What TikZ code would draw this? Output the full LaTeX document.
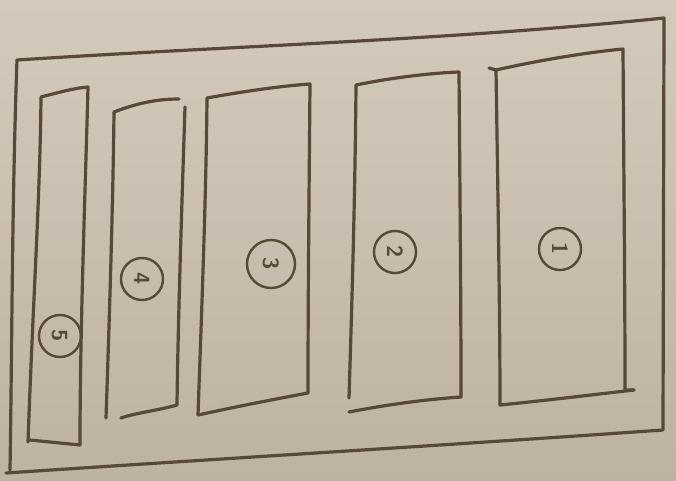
\documentclass[tikz,border=0pt]{standalone}
\usetikzlibrary{shapes.geometric}
\definecolor{paper}{RGB}{212,202,187}
\definecolor{paperdark}{RGB}{190,178,162}
\definecolor{ink}{RGB}{88,72,56}
\begin{document}
\begin{tikzpicture}[x=1pt,y=-1pt,
  pen/.style={draw=ink,line width=3.2pt,line join=round,line cap=round},
  badge/.style={circle,draw=ink,line width=2.4pt,minimum size=42pt,inner sep=0pt,
    text=ink,font=\sffamily\bfseries\fontsize{22}{24}\selectfont,rotate=-90}]
\useasboundingbox (0,0) rectangle (676,480);
\shade[top color=paper,bottom color=paperdark] (0,0) rectangle (676,480);
% outer frame
\draw[pen] (17,60) .. controls (250,45) and (450,40) .. (664,18) -- (663,430)
  .. controls (450,445) and (200,460) .. (6,473);
\draw[pen] (17,60) .. controls (12,200) and (12,350) .. (10,470);
% bar 5
\draw[pen] (28,442) .. controls (33,300) and (40,200) .. (41,97)
  .. controls (60,92) and (75,88) .. (88,87) .. controls (85,200) and (80,330) .. (80,445)
  -- (30,440);
% bar 4
\draw[pen] (106,418) .. controls (110,300) and (113,200) .. (114,112)
  .. controls (140,102) and (160,99) .. (179,99);
\draw[pen] (185,107) .. controls (182,200) and (178,320) .. (177,405)
  .. controls (160,410) and (135,413) .. (121,418);
% bar 3
\draw[pen] (198,415) .. controls (202,300) and (206,200) .. (207,98)
  .. controls (240,92) and (280,86) .. (310,84) .. controls (309,200) and (308,300) .. (308,393)
  .. controls (270,400) and (230,408) .. (198,415);
% bar 2
\draw[pen] (349,398) .. controls (352,300) and (355,200) .. (356,85)
  .. controls (390,78) and (430,73) .. (459,72) .. controls (460,200) and (461,300) .. (461,397);
\draw[pen] (349,412) .. controls (390,404) and (430,399) .. (461,397);
% bar 1
\draw[pen] (489,68) -- (496,70) .. controls (540,60) and (590,52) .. (623,49)
  .. controls (624,200) and (625,300) .. (625,390) -- (634,390);
\draw[pen] (496,70) .. controls (498,200) and (500,320) .. (500,405)
  .. controls (550,400) and (590,395) .. (634,390);
% numbered circles
\node[badge] (c5) at (60,336) {5};
\node[badge] (c4) at (142,279) {4};
\node[badge,minimum size=48pt] (c3) at (271,264) {3};
\node[badge] (c2) at (395,252) {2};
\node[badge] (c1) at (560,249) {1};
\end{tikzpicture}
\end{document}
